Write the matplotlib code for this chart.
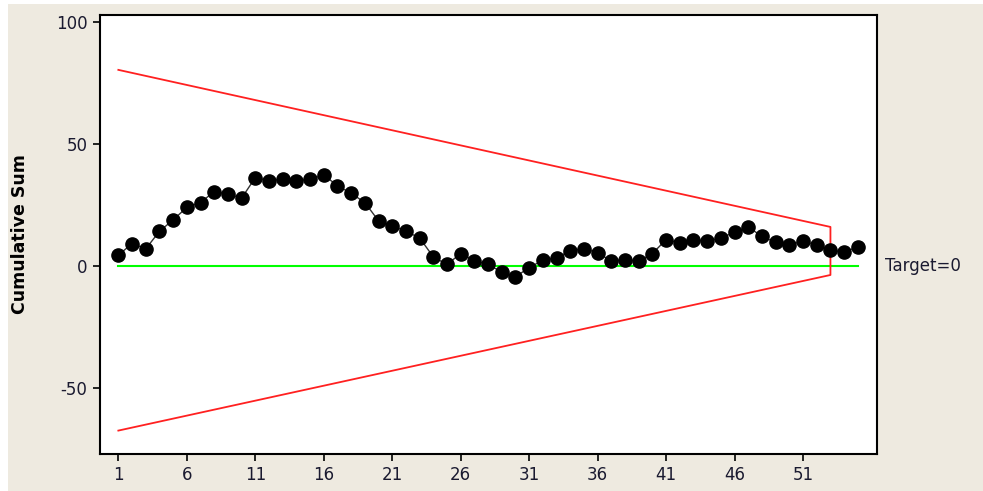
import matplotlib
matplotlib.use("Agg")
import matplotlib.pyplot as plt
from matplotlib.patches import Rectangle

plt.rcParams["axes.unicode_minus"] = False

# ---- data ----
samples = list(range(1, 56))
cusum = [4.4, 9.2, 7.0, 14.2, 18.9, 24.0, 26.0, 30.5, 29.5, 27.8,
         36.2, 35.0, 35.6, 35.0, 35.5, 37.3, 32.9, 29.8, 26.0, 18.5,
         16.5, 14.2, 11.5, 3.7, 0.6, 5.1, 2.2, 0.6, -2.5, -4.4,
         -0.7, 2.4, 3.3, 6.3, 7.1, 5.4, 2.0, 2.6, 2.0, 5.1,
         10.8, 9.4, 10.8, 10.1, 11.5, 13.8, 16.0, 12.1, 9.7, 8.4,
         10.4, 8.4, 6.4, 5.8, 7.7]
target = 0
mask_upper_x = [1, 53]
mask_upper_y = [80.4, 16.0]
mask_lower_x = [1, 53]
mask_lower_y = [-67.5, -3.7]
xticks = [1, 6, 11, 16, 21, 26, 31, 36, 41, 46, 51]
yticks = [-50, 0, 50, 100]

bg = "#EEEAE0"
fig = plt.figure(figsize=(9.83, 4.91), dpi=100, facecolor=bg)
fig.patches.append(Rectangle((0, 0), 8 / 983, 1, transform=fig.transFigure,
                             facecolor="white", edgecolor="none", zorder=-10))
fig.patches.append(Rectangle((0, 1 - 4 / 491), 1, 4 / 491, transform=fig.transFigure,
                             facecolor="white", edgecolor="none", zorder=-10))
ax = fig.add_axes([100 / 983, 37 / 491, 777 / 983, 439.5 / 491])
ax.set_facecolor("white")

ax.plot([samples[0], samples[-1]], [target, target], color="#00FF00", lw=1.5, zorder=2)
ax.plot(mask_upper_x + [mask_lower_x[1]] + mask_lower_x[::-1],
        mask_upper_y + [mask_lower_y[1]] + mask_lower_y[::-1],
        color="#FF2020", lw=1.3, zorder=3)
ax.plot(samples, cusum, color="#333333", lw=1.0, ls="-", marker="o",
        markersize=9.5, markerfacecolor="black", markeredgecolor="black", zorder=4)

ax.set_xlim(-0.34, 56.4)
ax.set_ylim(-77.1, 103.1)
ax.set_xticks(xticks)
ax.set_yticks(yticks)
tick_color = "#1a1a30"
ax.tick_params(axis="both", direction="out", length=5, width=1.2, colors="black",
               labelsize=12, labelcolor=tick_color, pad=4)
for s in ax.spines.values():
    s.set_linewidth(1.5)
    s.set_color("black")

ax.set_ylabel("Cumulative Sum", fontsize=12.5, fontweight="bold", color="black", labelpad=19)
ax.text(1.01, target, "Target=0", transform=ax.get_yaxis_transform(), fontsize=12,
        color=tick_color, va="center", ha="left", clip_on=False)

fig.savefig("out.png", dpi=100, facecolor=fig.get_facecolor())
